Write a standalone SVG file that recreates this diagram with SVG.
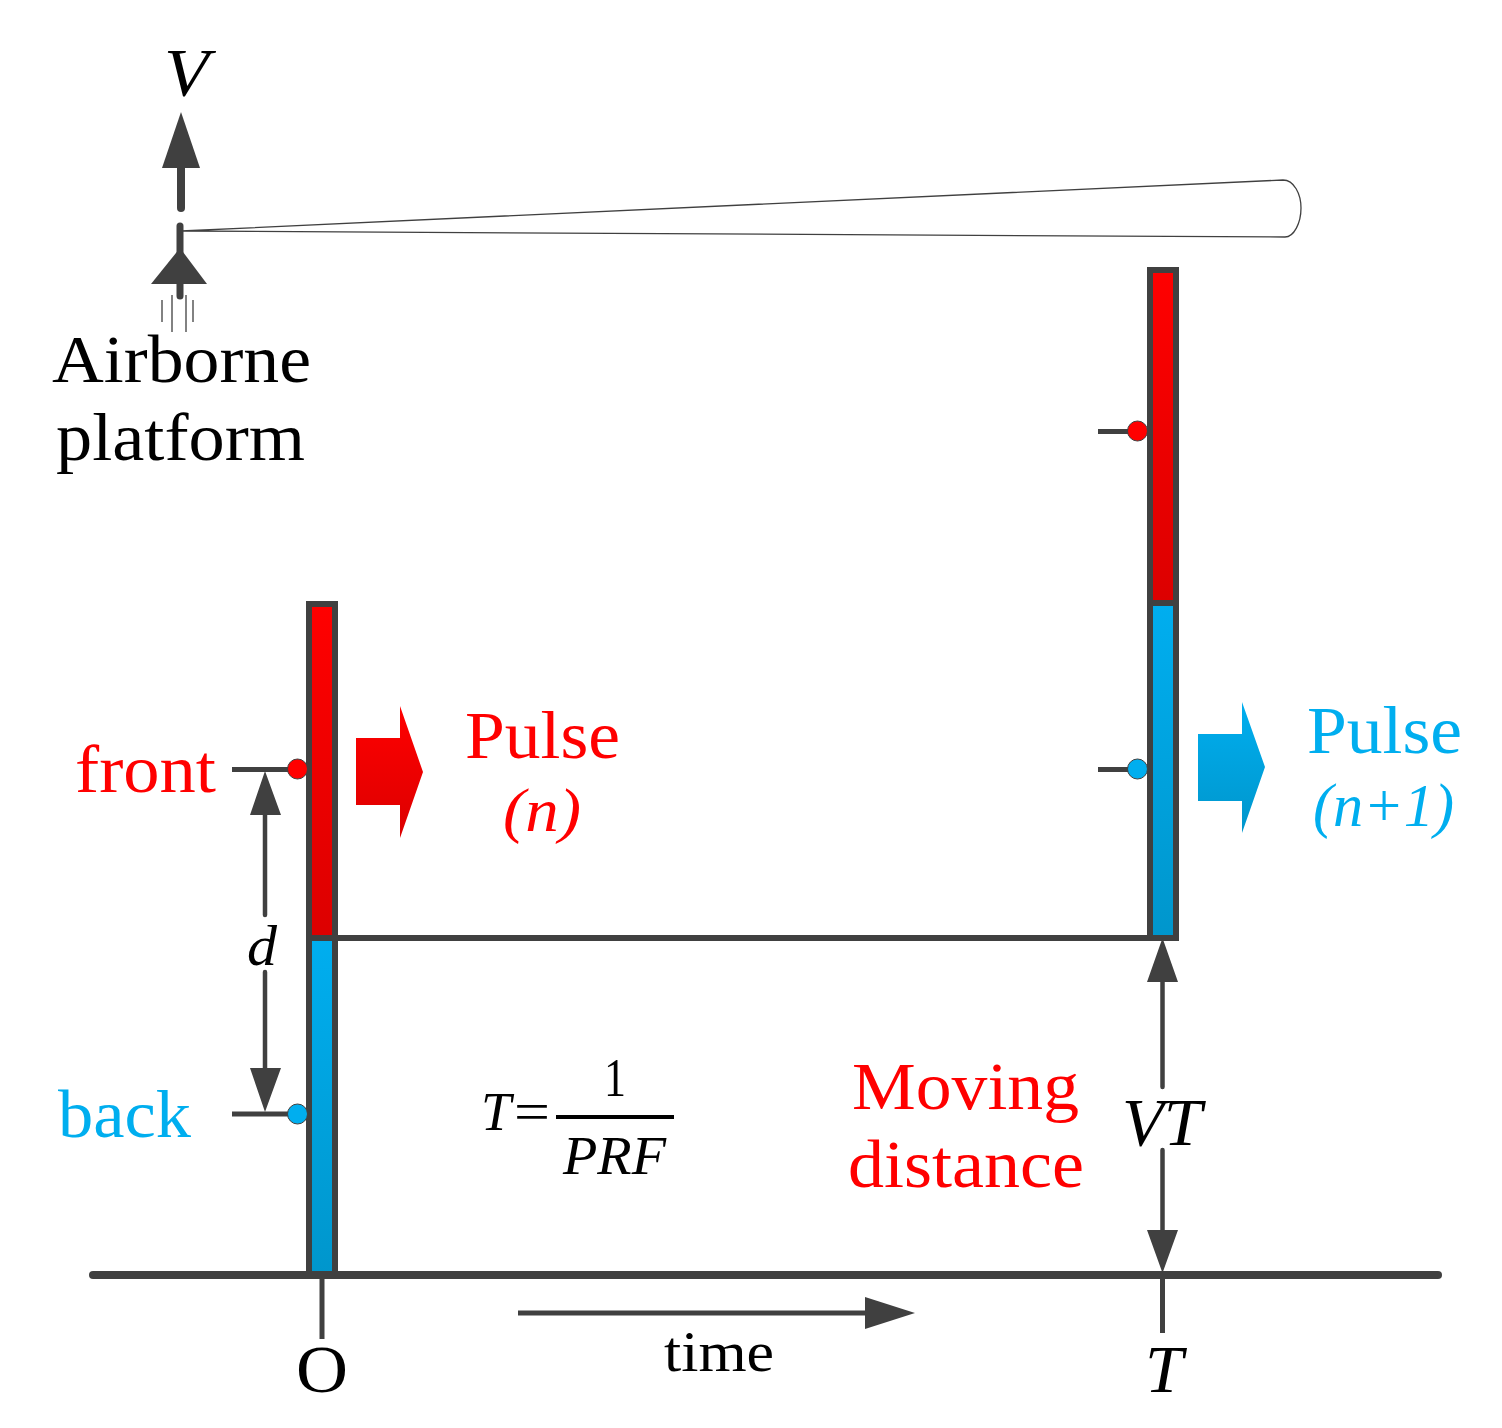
<svg xmlns="http://www.w3.org/2000/svg" width="1502" height="1428" viewBox="0 0 1502 1428">
<style>
text{font-family:"Liberation Serif","Times New Roman",serif;font-size:68px;fill:#000}
.i{font-style:italic}
.r{fill:#f00}
.b{fill:#00aeef}
.s{fill:none;stroke:#404040;stroke-width:6}
.bar{stroke:#404040;stroke-width:6}
.gr{fill:url(#gr)}
.gb{fill:url(#gb)}
.w{fill:none;stroke:#404040;stroke-width:8;stroke-linecap:round}
.h{fill:#404040}
.t{fill:none;stroke:#404040;stroke-width:1.3}
</style>
<defs>
<linearGradient id="gr" x1="0" y1="0" x2="0" y2="1"><stop offset="0" stop-color="#f00"/><stop offset="1" stop-color="#dc0000"/></linearGradient>
<linearGradient id="gb" x1="0" y1="0" x2="0" y2="1"><stop offset="0" stop-color="#00aeef"/><stop offset="1" stop-color="#0096cc"/></linearGradient>
</defs>
<g id="beam"><path class="t" d="M181 231L1283 180C1294 180 1301 194 1301 208C1301 223 1294 237 1285 237C1000 237 600 235 181 231Z"/></g>
<g id="platform">
<path class="h" d="M180 248L207 284H151Z"/>
<path d="M180 226V296" stroke="#404040" stroke-width="7" stroke-linecap="round" fill="none"/>
<path class="t" d="M162 300V322M172 295V332M186 295V332M193 300V322"/>
<text x="52" y="382" textLength="259" lengthAdjust="spacingAndGlyphs">Airborne</text>
<text x="56" y="460" textLength="249" lengthAdjust="spacingAndGlyphs">platform</text>
</g>
<g id="velocity">
<path class="h" d="M181 112L200 168H162Z"/>
<path class="w" d="M181 168V208"/>
<text class="i" x="164" y="95" textLength="45" lengthAdjust="spacingAndGlyphs">V</text>
</g>
<g id="pulse-n-bar">
<rect x="309" y="604" width="26" height="334" class="bar gr"/>
<rect x="309" y="938" width="26" height="337" class="bar gb"/>
</g>
<g id="pulse-n1-bar">
<rect x="1150" y="270" width="26" height="333" class="bar gr"/>
<rect x="1150" y="603" width="26" height="335" class="bar gb"/>
</g>
<g id="connectors">
<path class="s" d="M335 938H1150"/>
<path class="w" d="M93 1275H1438"/>
<path d="M322 1279V1339M1162.500 1279V1333M232 769.500H290M1098 431.500H1128M1098 769.500H1128M232 1114H290M518 1313H866" stroke="#404040" stroke-width="5" fill="none"/>
<path d="M265 812V915M265 972V1070M1162.500 980V1087M1162.500 1150V1232" stroke="#404040" stroke-width="4.500" fill="none" stroke-linecap="round"/>
<path class="h" d="M265 771L281 815H250ZM265 1112L250 1068H281ZM1162.500 938L1178 982H1147ZM1162.500 1273L1147 1230H1178ZM915 1313L865 1297V1329Z"/>
</g>
<g id="front-marker"><circle cx="297.500" cy="769" r="10" fill="#f00" stroke="#404040" stroke-width="1"/><text class="r" x="75" y="792" textLength="141" lengthAdjust="spacingAndGlyphs">front</text></g>
<g id="back-marker"><circle cx="297.500" cy="1114" r="10" fill="#00aeef" stroke="#404040" stroke-width="1"/><text class="b" x="58" y="1137" textLength="133" lengthAdjust="spacingAndGlyphs">back</text></g>
<g id="right-red-marker"><circle cx="1137.500" cy="431" r="10" fill="#f00" stroke="#404040" stroke-width="1"/></g>
<g id="right-blue-marker"><circle cx="1137.500" cy="769" r="10" fill="#00aeef" stroke="#404040" stroke-width="1"/></g>
<g id="pulse-n">
<path class="gr" d="M356 738H400V706L423 772L400 838V805H356Z"/>
<text class="r" x="465" y="758" textLength="155" lengthAdjust="spacingAndGlyphs">Pulse</text>
<text class="r i" x="503" y="831" style="font-size:62px" textLength="78" lengthAdjust="spacingAndGlyphs">(n)</text>
</g>
<g id="pulse-n1">
<path class="gb" d="M1198 734H1242V702L1265 767L1242 833V801H1198Z"/>
<text class="b" x="1307" y="753" textLength="155" lengthAdjust="spacingAndGlyphs">Pulse</text>
<text class="b i" x="1313" y="826" style="font-size:62px" textLength="141" lengthAdjust="spacingAndGlyphs">(n+1)</text>
</g>
<g id="labels">
<text class="i" x="247" y="965" style="font-size:56px" textLength="30" lengthAdjust="spacingAndGlyphs">d</text>
<text class="i" x="481" y="1130" style="font-size:54px">T</text>
<text x="514" y="1130" style="font-size:54px" textLength="36" lengthAdjust="spacingAndGlyphs">=</text>
<text x="604" y="1096" style="font-size:54px" textLength="22" lengthAdjust="spacingAndGlyphs">1</text>
<path d="M556 1117H674" stroke="#000" stroke-width="4" fill="none"/>
<text class="i" x="563" y="1174" style="font-size:54px" textLength="103" lengthAdjust="spacingAndGlyphs">PRF</text>
<text class="r" x="852" y="1109" textLength="227" lengthAdjust="spacingAndGlyphs">Moving</text>
<text class="r" x="848" y="1187" textLength="236" lengthAdjust="spacingAndGlyphs">distance</text>
<text class="i" x="1122" y="1145" textLength="80" lengthAdjust="spacingAndGlyphs">VT</text>
<text x="664" y="1371" style="font-size:56px" textLength="110" lengthAdjust="spacingAndGlyphs">time</text>
<text x="296" y="1392" textLength="52" lengthAdjust="spacingAndGlyphs">O</text>
<text class="i" x="1145" y="1392" textLength="38" lengthAdjust="spacingAndGlyphs">T</text>
</g>
</svg>
